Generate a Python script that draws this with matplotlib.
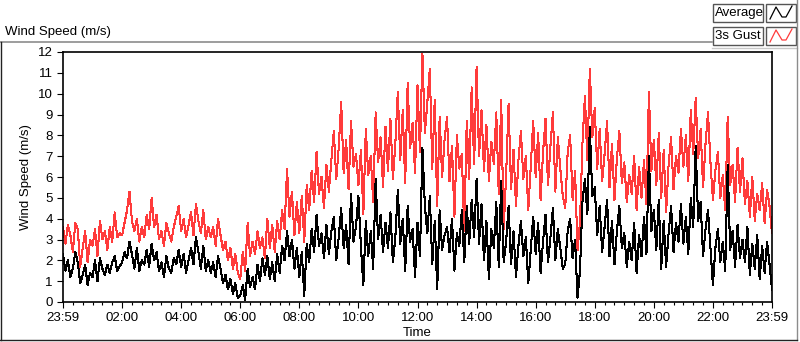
import matplotlib
matplotlib.use("Agg")
import matplotlib.pyplot as plt
from matplotlib.lines import Line2D
from matplotlib.patches import Rectangle
from matplotlib.ticker import MultipleLocator
import numpy as np

plt.rcParams['font.family'] = ['Liberation Sans Narrow', 'Liberation Sans', 'DejaVu Sans']

# 5-minute samples, one row per hour, starting at 23:59
gust = [
    3.6, 2.8, 3.7, 3.2, 2.4, 3.8, 3.5, 1.7, 2.6, 3.4, 1.9, 3.0,
    2.7, 3.5, 2.2, 3.9, 3.0, 3.4, 2.5, 3.6, 2.9, 4.3, 3.1, 3.3,
    3.2, 3.8, 4.4, 5.3, 3.9, 3.4, 4.0, 2.9, 3.6, 3.1, 4.2, 3.5,
    5.0, 3.6, 4.2, 3.0, 3.4, 2.7, 3.8, 3.3, 2.9, 3.6, 4.1, 4.6,
    3.4, 4.0, 3.1, 3.7, 4.3, 3.2, 4.7, 3.9, 3.3, 4.4, 3.0, 3.6,
    3.1, 3.6, 2.7, 4.0, 3.2, 2.5, 2.9, 2.0, 2.6, 1.6, 2.3, 1.4,
    1.1, 2.4, 1.5, 3.8, 2.2, 2.9, 2.3, 3.4, 2.6, 3.1, 2.1, 4.0,
    2.6, 3.7, 2.4, 3.9, 3.0, 4.4, 3.5, 6.4, 4.1, 5.3, 3.2, 4.8,
    3.3, 5.1, 2.9, 5.6, 4.4, 6.3, 4.8, 7.2, 5.2, 6.0, 4.5, 6.6,
    5.3, 6.8, 8.2, 5.9, 7.4, 9.6, 6.2, 7.8, 5.4, 8.7, 6.5, 7.1,
    5.6, 7.3, 4.2, 8.3, 6.1, 7.0, 4.8, 9.1, 6.7, 7.9, 5.5, 8.4,
    6.3, 8.8, 5.9, 7.6, 10.1, 6.8, 9.2, 5.7, 10.5, 7.4, 8.6, 6.2,
    10.4, 7.2, 11.9, 8.1, 9.6, 11.2, 6.4, 9.7, 4.6, 8.9, 6.0, 7.8,
    8.9, 5.8, 7.5, 4.1, 8.0, 6.4, 7.1, 3.4, 8.7, 5.9, 10.3, 6.6,
    11.3, 7.0, 9.2, 6.3, 8.5, 5.8, 7.7, 6.6, 9.1, 5.2, 9.7, 3.5,
    6.1, 9.5, 5.4, 7.3, 4.6, 6.8, 8.2, 5.9, 7.0, 4.4, 6.5, 8.7,
    6.0, 8.1, 4.9, 7.2, 8.8, 5.6, 7.5, 9.1, 5.3, 7.9, 6.4, 5.1,
    4.5, 7.2, 8.0, 4.9, 6.3, 2.5, 3.8, 7.6, 9.9, 6.8, 11.2, 7.9,
    9.3, 6.4, 8.3, 5.8, 7.1, 8.7, 5.5, 7.6, 4.9, 6.9, 8.2, 5.7,
    6.7, 4.8, 6.1, 5.2, 7.0, 4.4, 6.5, 5.0, 6.8, 4.7, 10.1, 6.3,
    7.8, 5.6, 8.1, 5.0, 7.3, 4.3, 6.6, 7.9, 5.4, 7.0, 6.2, 8.3,
    6.5, 8.0, 5.8, 9.2, 7.1, 9.8, 6.9, 8.3, 5.5, 7.6, 9.1, 6.7,
    4.9, 6.3, 7.2, 5.0, 6.1, 4.4, 8.9, 5.6, 6.6, 4.8, 7.4, 5.3,
    6.9, 4.7, 5.8, 4.1, 6.0, 3.9, 5.2, 4.4, 5.7, 3.8, 5.4, 4.6,
    3.3,
]

average = [
    2.3, 1.5, 2.0, 1.2, 1.6, 2.4, 1.9, 0.9, 1.3, 1.8, 0.8, 1.4,
    1.2, 2.0, 1.0, 2.1, 1.6, 1.3, 1.8, 1.4, 1.9, 2.2, 1.5, 1.7,
    1.9, 2.4, 2.1, 2.9, 2.3, 1.6, 2.6, 1.5, 2.0, 1.8, 2.5, 1.7,
    2.8, 2.0, 2.4, 1.5, 1.9, 1.2, 2.2, 1.6, 1.4, 2.1, 1.8, 2.5,
    1.7, 2.3, 1.4, 2.0, 2.6, 1.8, 3.1, 2.4, 1.6, 2.7, 1.5, 2.0,
    1.4, 1.9, 1.2, 2.2, 1.6, 0.9, 1.3, 0.6, 1.1, 0.4, 0.9, 0.2,
    0.3, 0.8, 0.1, 1.6, 0.7, 1.2, 0.6, 1.8, 1.0, 2.1, 1.3, 2.2,
    1.1, 1.9, 1.0, 2.3, 1.4, 2.7, 2.0, 3.4, 2.2, 3.0, 1.6, 2.6,
    1.2, 2.4, 0.3, 2.8, 1.9, 3.5, 2.4, 4.2, 2.7, 3.3, 2.1, 3.7,
    2.3, 3.4, 4.1, 2.0, 3.1, 4.5, 2.6, 3.7, 1.8, 5.2, 2.9, 3.6,
    5.1, 2.7, 0.8, 3.9, 2.2, 3.4, 1.6, 5.9, 3.0, 4.2, 2.4, 3.8,
    2.6, 4.3, 1.9, 3.1, 5.4, 2.8, 4.0, 1.5, 4.6, 2.9, 3.5, 1.2,
    3.8, 2.2, 7.4, 4.6, 3.3, 5.1, 1.8, 3.9, 0.6, 4.4, 2.5, 3.2,
    3.6, 2.4, 4.0, 1.5, 3.3, 2.7, 4.4, 1.9, 4.6, 2.8, 4.9, 3.1,
    5.9, 2.8, 4.7, 2.0, 3.9, 1.1, 3.5, 2.6, 4.8, 1.7, 5.8, 1.9,
    2.9, 4.6, 1.8, 3.4, 1.2, 2.7, 3.9, 2.2, 3.1, 0.9, 2.5, 4.1,
    2.3, 3.8, 1.4, 2.9, 4.2, 1.9, 3.1, 4.5, 2.0, 3.5, 2.6, 1.6,
    1.8, 3.4, 4.0, 2.1, 3.0, 0.2, 1.5, 4.8, 5.9, 4.2, 8.4, 5.1,
    5.5, 3.2, 4.6, 2.4, 3.6, 4.9, 2.2, 3.9, 1.8, 3.4, 4.6, 2.6,
    3.3, 1.7, 2.9, 2.0, 3.8, 1.4, 3.2, 2.2, 4.1, 2.3, 7.0, 3.4,
    4.4, 2.5, 4.9, 1.6, 3.9, 1.7, 3.3, 4.6, 2.4, 3.8, 2.9, 4.7,
    2.8, 4.1, 2.3, 5.0, 3.6, 7.5, 3.9, 4.8, 2.2, 3.5, 4.4, 2.6,
    0.8, 2.6, 3.5, 1.9, 2.9, 1.5, 6.6, 2.5, 3.4, 1.7, 3.7, 2.1,
    3.0, 1.9, 3.6, 1.3, 2.8, 1.6, 3.2, 1.1, 2.7, 1.4, 2.9, 1.8,
    0.6,
]

tick_labels = ["23:59", "02:00", "04:00", "06:00", "08:00", "10:00", "12:00",
               "14:00", "16:00", "18:00", "20:00", "22:00", "23:59"]

W, H = 800, 342
fig = plt.figure(figsize=(W / 100, H / 100), dpi=100)


def fx(px):
    return px / W


def fy(py):
    return 1 - py / H


# outer chart frame
grey = "#8c8c8c"
fig.add_artist(Line2D([fx(0), fx(712)], [fy(42), fy(42)], color=grey, lw=1.2))
fig.add_artist(Line2D([fx(712), fx(797)], [fy(48), fy(48)], color="#c8c8c8", lw=1))
fig.add_artist(Line2D([fx(797), fx(797)], [fy(0), fy(340)], color=grey, lw=1))
fig.add_artist(Line2D([fx(0.5), fx(0.5)], [fy(42), fy(340)], color="#222222", lw=1))
fig.add_artist(Line2D([fx(0), fx(797)], [fy(340), fy(340)], color="#222222", lw=1))

fig.text(fx(5), fy(32), "Wind Speed (m/s)", fontsize=9.5, va="center", ha="left")

# legend boxes
legend_items = [("Average", "black", 13), ("3s Gust", "#ff3b3b", 36)]
for label, col, yc in legend_items:
    fig.add_artist(Rectangle((fx(713), fy(yc + 9)), fx(50), 18 / H,
                             fill=False, edgecolor="#555555", lw=1))
    fig.text(fx(715), fy(yc), label, fontsize=9.5, va="center", ha="left")
    fig.add_artist(Rectangle((fx(766), fy(yc + 9)), fx(30), 18 / H,
                             fill=False, edgecolor="#555555", lw=1))
    zx = [770, 776, 782, 786, 792]
    zy = [yc + 6, yc - 6, yc + 4, yc + 4, yc - 7]
    fig.add_artist(Line2D([fx(v) for v in zx], [fy(v) for v in zy], color=col, lw=0.9))

ax = fig.add_axes([fx(63), fy(302), fx(772) - fx(63), fy(52) - fy(302)])

minutes = np.arange(len(gust)) * 5
ax.plot(minutes, gust, color="#ff3b3b", lw=0.75, antialiased=False)
ax.plot(minutes, average, color="black", lw=0.75, antialiased=False)

ax.set_xlim(0, 1440)
ax.set_ylim(0, 12)
ax.set_xticks(np.arange(0, 1441, 120))
ax.set_xticklabels(tick_labels)
ax.xaxis.set_minor_locator(MultipleLocator(20))
ax.set_yticks(range(0, 13))
ax.tick_params(axis="both", direction="out", labelsize=9.5, length=4, width=0.8)
ax.tick_params(axis="x", which="minor", direction="out", length=2.5, width=0.8)
for s in ax.spines.values():
    s.set_linewidth(1.2)

ax.set_xlabel("Time", fontsize=9.5, labelpad=2)
ax.set_ylabel("Wind Speed (m/s)", fontsize=9.5, labelpad=4)

fig.savefig("out.png", dpi=100)
